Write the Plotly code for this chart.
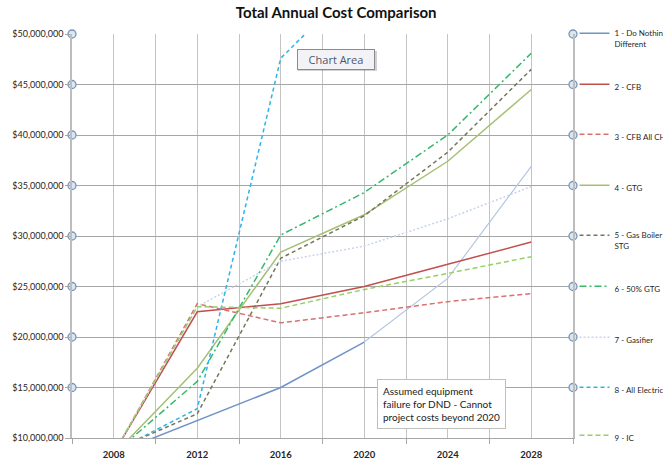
import plotly.graph_objects as go

# Cost projections (millions of dollars) by year
years = [2008, 2012, 2016, 2020, 2024, 2028]

do_nothing = [8.45, 11.75, 15.0, 19.5, None, None]
do_nothing_projection = [None, None, None, 19.5, 25.8, 36.9]
cfb = [8.5, 22.5, 23.3, 25.0, 27.2, 29.4]
cfb_all_ch = [8.4, 23.3, 21.4, 22.4, 23.5, 24.3]
gtg = [8.35, 16.9, 28.4, 32.1, 37.4, 44.5]
gas_boiler_stg = [8.8, 12.4, 27.8, 32.0, 38.3, 46.5]
gtg_50 = [8.45, 15.6, 30.1, 34.3, 40.0, 48.1]
gasifier = [8.5, 23.0, 27.5, 29.0, 31.7, 34.9]
all_electric = [8.65, 12.9, 47.6, 55.8, None, None]
ic = [8.5, 23.0, 22.85, 24.7, 26.3, 27.95]

series_names = [
    "1 - Do Nothing<br>Different",
    "2 - CFB",
    "3 - CFB All CH",
    "4 - GTG",
    "5 - Gas Boiler<br>STG",
    "6 - 50% GTG",
    "7 - Gasifier",
    "8 - All Electric",
    "9 - IC",
]
series_values = [do_nothing, cfb, cfb_all_ch, gtg, gas_boiler_stg,
                 gtg_50, gasifier, all_electric, ic]
series_colors = ["#6F93C6", "#C0504D", "#D9716E", "#A5C073", "#74765A",
                 "#35B86C", "#C8D3EC", "#2FB3E8", "#97D064"]
series_dash = ["solid", "solid", "5px,3px", "solid", "4px,3px",
               "7px,3px,2px,3px", "2px,2px", "4px,3px", "5px,3px"]

y_ticks = [10, 15, 20, 25, 30, 35, 40, 45, 50]
x_bounds = [2006, 2010, 2014, 2018, 2022, 2026, 2030]

FONT = "Lato"
M = 1_000_000

fig = go.Figure()

# plot geometry (pixels) used for legend placement
PLOT_TOP, PLOT_BOTTOM = 34, 438
def paper_y(py):
    return (PLOT_BOTTOM - py) / (PLOT_BOTTOM - PLOT_TOP)

legend_rows = [34, 85, 135, 186, 236, 287, 338, 388, 436]

for i, (name, vals, col, dash) in enumerate(
        zip(series_names, series_values, series_colors, series_dash)):
    lg = "legend" if i == 0 else f"legend{i + 1}"
    fig.add_trace(go.Scatter(
        x=years, y=[v * M if v is not None else None for v in vals],
        mode="lines", name=name, legend=lg,
        line=dict(color=col, width=1.5, dash=dash),
        connectgaps=False,
    ))
    if i == 0:
        # faded projection beyond the last reliable year
        fig.add_trace(go.Scatter(
            x=years,
            y=[v * M if v is not None else None for v in do_nothing_projection],
            mode="lines", showlegend=False,
            line=dict(color="#B4C6E4", width=1.2),
        ))

# axis selection handles on both value axes
handle_y = [v * M for v in y_ticks[1:]]
for xv in (2006, 2030):
    fig.add_trace(go.Scatter(
        x=[xv] * len(handle_y), y=handle_y, mode="markers",
        showlegend=False, cliponaxis=False, hoverinfo="skip",
        marker=dict(symbol="circle", size=8, color="#D7E7F3",
                    line=dict(color="#7894B5", width=1.3)),
    ))

legend_layout = {}
for i, py in enumerate(legend_rows):
    key = "legend" if i == 0 else f"legend{i + 1}"
    legend_layout[key] = dict(
        x=1.003, xanchor="left", y=paper_y(py - 12.5), yanchor="top",
        valign="top", bgcolor="rgba(0,0,0,0)", borderwidth=0,
        font=dict(family=FONT, size=8, color="#1F1F1F"),
        itemclick=False,
    )

fig.update_layout(
    width=663, height=463,
    margin=dict(l=72, r=90, t=34, b=25, autoexpand=False),
    paper_bgcolor="white", plot_bgcolor="white",
    title=dict(text="<b>Total Annual Cost Comparison</b>",
               x=0.507, xanchor="center", y=1 - 13 / 463, yanchor="middle",
               font=dict(family=FONT, size=15, color="#111111")),
    font=dict(family=FONT),
    xaxis=dict(
        range=[2006, 2030], tickmode="array", tickvals=x_bounds,
        ticktext=[""] * len(x_bounds), ticks="outside", ticklen=5,
        tickcolor="#A6A6A6", showgrid=True, gridcolor="#C4C4C4", gridwidth=1.3,
        showline=True, linecolor="#A6A6A6", linewidth=1.3, zeroline=False,
        minor=dict(tickmode="array", tickvals=years, showgrid=True,
                   gridcolor="#C4C4C4", gridwidth=1.3, ticks=""),
    ),
    xaxis2=dict(
        overlaying="x", anchor="y", side="bottom", range=[2006, 2030],
        tickmode="array", tickvals=years, ticktext=[str(y) for y in years],
        ticks="outside", ticklen=8, tickcolor="rgba(0,0,0,0)",
        showgrid=False, showline=False, zeroline=False,
        tickfont=dict(family=FONT, size=9.5, color="#262626", weight="bold"),
    ),
    yaxis=dict(
        range=[10 * M, 50 * M], tickmode="array",
        tickvals=[v * M for v in y_ticks], tickformat="$,.0f",
        ticks="outside", ticklen=5, tickcolor="#A6A6A6",
        showgrid=True, gridcolor="#A6A6A6", gridwidth=1.3,
        showline=True, mirror=True, linecolor="#BDBDBD", linewidth=1.5,
        zeroline=False,
        tickfont=dict(family=FONT, size=9, color="#262626"),
    ),
    **legend_layout,
)

# invisible trace on the label axis so its year labels render
fig.add_trace(go.Scatter(x=years, y=[None] * len(years), xaxis="x2",
                         showlegend=False, hoverinfo="skip"))

fig.add_annotation(
    xref="paper", yref="paper", x=(377 - 72) / 501, y=paper_y(379),
    xanchor="left", yanchor="top", align="left", showarrow=False,
    text="Assumed equipment<br>failure for DND - Cannot<br>project costs beyond 2020",
    font=dict(family=FONT, size=10, color="#1A1A1A"),
    bgcolor="white", bordercolor="#BFBFBF", borderwidth=1, borderpad=5,
)

# tooltip-style label
fig.add_shape(type="rect", xref="paper", yref="paper",
              x0=(298 - 72) / 501, x1=(377 - 72) / 501,
              y0=paper_y(71), y1=paper_y(51),
              fillcolor="rgba(0,0,0,0.18)", line=dict(width=0), layer="above")
fig.add_annotation(
    xref="paper", yref="paper", x=(336 - 72) / 501, y=paper_y(59),
    xanchor="center", yanchor="middle", showarrow=False,
    text="Chart Area", width=72,
    font=dict(family="Open Sans", size=11, color="#4B5768"),
    bgcolor="#F3F3F7", bordercolor="#8A8A92", borderwidth=1, borderpad=2,
)

fig.write_html("out.html")
